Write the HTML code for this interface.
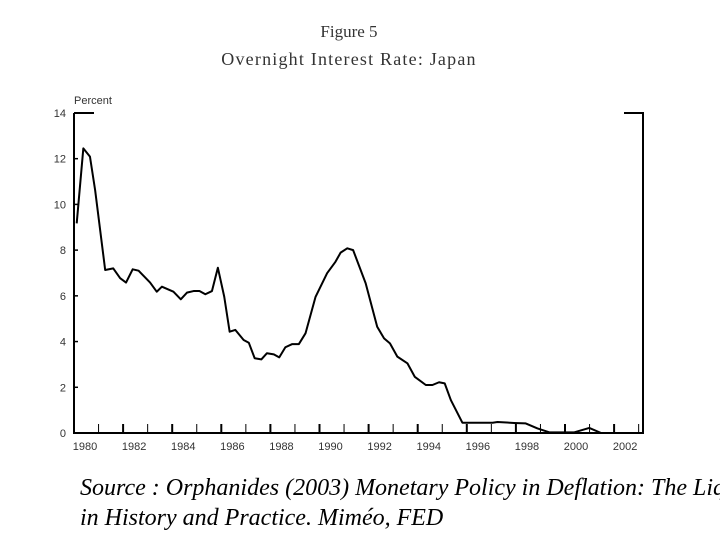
<!DOCTYPE html>
<html><head><meta charset="utf-8">
<style>
body{margin:0;background:#fff;width:720px;height:540px;overflow:hidden;position:relative;font-family:"Liberation Sans",sans-serif}
.t{position:absolute;left:0;width:698px;text-align:center;font-family:"Liberation Serif",serif;color:#333}
.src{position:absolute;left:80px;top:473px;width:640px;overflow:hidden;font-family:"Liberation Serif",serif;font-style:italic;font-size:24px;line-height:30px;white-space:nowrap;color:#000}
</style></head><body>
<div class="t" style="top:22px;font-size:17px">Figure 5</div>
<div class="t" style="top:49px;font-size:18px;letter-spacing:1.2px">Overnight Interest Rate: Japan</div>
<svg id="chart" width="720" height="540" style="position:absolute;left:0;top:0">
<text x="74" y="104" font-size="11" fill="#333" font-family="Liberation Sans">Percent</text>
</svg>
<div class="src">Source : Orphanides (2003) Monetary Policy in Deflation: The Liquidity Trap<br>in History and Practice. Miméo, FED</div>
<script>
const years=[1980.11,1980.38,1980.65,1980.86,1981.27,1981.6,1981.88,1982.12,1982.39,1982.63,1983.1,1983.37,1983.58,1984.05,1984.35,1984.6,1984.87,1985.11,1985.35,1985.62,1985.86,1986.12,1986.34,1986.57,1986.91,1987.12,1987.36,1987.63,1987.86,1988.14,1988.36,1988.61,1988.89,1989.16,1989.43,1989.84,1990.31,1990.65,1990.86,1991.13,1991.37,1991.88,1992.35,1992.63,1992.87,1993.17,1993.58,1993.88,1994.33,1994.6,1994.87,1995.1,1995.35,1995.82,1997.05,1997.25,1997.93,1998.4,1998.88,1999.36,2000.38,2000.99,2001.47,2002.97];
const rates=[9.17,12.45,12.09,10.63,7.13,7.2,6.77,6.58,7.16,7.1,6.58,6.18,6.4,6.18,5.85,6.14,6.21,6.21,6.07,6.21,7.23,5.96,4.43,4.51,4.07,3.95,3.27,3.22,3.49,3.44,3.31,3.75,3.89,3.89,4.36,5.96,6.99,7.49,7.89,8.08,8.0,6.55,4.65,4.14,3.92,3.34,3.05,2.46,2.1,2.1,2.22,2.17,1.44,0.45,0.45,0.48,0.44,0.42,0.2,0.03,0.03,0.22,0.0,0.0];
const yTicks=[0,2,4,6,8,10,12,14];
const xLabels=[1980,1982,1984,1986,1988,1990,1992,1994,1996,1998,2000,2002];
const X0=74,Y0=433,PXY=24.55,PXV=22.86;
function sx(y){return X0+(y-1980)*PXY;}
function sy(v){return Y0-v*PXV;}
const svg=document.getElementById('chart');const NS='http://www.w3.org/2000/svg';
function mk(t,a){const e=document.createElementNS(NS,t);for(const k in a)e.setAttribute(k,a[k]);svg.appendChild(e);return e;}
let ax=mk('path',{d:`M${X0} ${sy(14)}H${X0+20}M${X0} ${sy(14)}V${Y0}H643V${sy(14)}H624`,fill:'none',stroke:'#000','stroke-width':2});


yTicks.forEach(v=>{
 const t=mk('line',{x1:X0,x2:X0+4,y1:sy(v),y2:sy(v),stroke:'#000','stroke-width':1.5});
 
 
 const l=mk('text',{x:X0-8,y:sy(v)+4,'text-anchor':'end','font-size':11,fill:'#333'});l.textContent=v;
 
 
});
for(let yr=1981;yr<=2003;yr++){
 const t=mk('line',{x1:sx(yr),x2:sx(yr),y1:Y0,y2:Y0-9,stroke:'#000','stroke-width':yr%2===0?2:1});
 
 
}
xLabels.forEach(yr=>{
 const l=mk('text',{x:sx(yr+0.45),y:Y0+17,'text-anchor':'middle','font-size':11,fill:'#333'});l.textContent=yr;
 
 
});
const p=mk('polyline',{points:years.map((y,i)=>sx(y)+','+sy(rates[i])).join(' '),fill:'none',stroke:'#000','stroke-width':2,'stroke-linejoin':'round'});


</script>
</body></html>
